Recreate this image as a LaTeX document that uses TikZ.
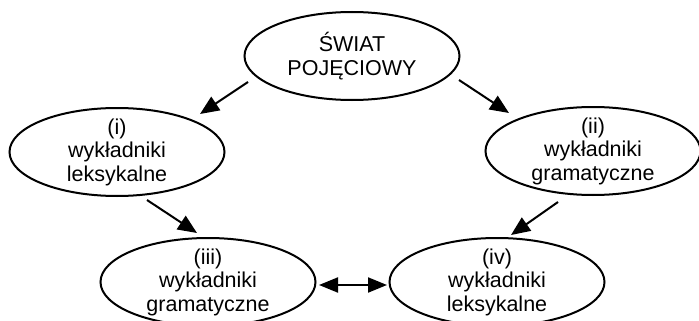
\documentclass[tikz,border=0pt]{standalone}
\usepackage{fontspec}
\setmainfont{Liberation Sans}
\usetikzlibrary{arrows.meta,shapes.geometric}
\begin{document}
\begin{tikzpicture}[x=1pt,y=-1pt,
  oval/.style={draw, ellipse, line width=2pt, minimum width=215pt, minimum height=88pt, inner sep=0pt},
  txt/.style={align=center, font=\fontsize{21.5}{23.5}\selectfont, inner sep=0pt},
  arr/.style={line width=2pt, -{Triangle[length=19pt,width=16pt]}},
  darr/.style={line width=2pt, {Triangle[length=19pt,width=15pt]}-{Triangle[length=19pt,width=15pt]}}]
\useasboundingbox (0,0) rectangle (699,321);
\node[oval] (top) at (352,56) {};
\node[txt] (toptxt) at (top.center) {ŚWIAT\\POJĘCIOWY};
\node[oval] (i) at (117,152) {};
\node[txt] (itxt) at (i.center) {(i)\\wykładniki\\leksykalne};
\node[oval] (ii) at (593,151) {};
\node[txt] (iitxt) at (ii.center) {(ii)\\wykładniki\\gramatyczne};
\node[oval] (iii) at (208,282) {};
\node[txt] (iiitxt) at (iii.center) {(iii)\\wykładniki\\gramatyczne};
\node[oval] (iv) at (497,282) {};
\node[txt] (ivtxt) at (iv.center) {(iv)\\wykładniki\\leksykalne};
\coordinate (a1s) at (248,82); \coordinate (a1e) at (200,114);
\coordinate (a2s) at (459,80); \coordinate (a2e) at (509,113);
\coordinate (a3s) at (147,200); \coordinate (a3e) at (197,233);
\coordinate (a4s) at (558,202); \coordinate (a4e) at (511,235);
\coordinate (a5s) at (319,285); \coordinate (a5e) at (387,285);
\draw[arr] (a1s) -- (a1e);
\draw[arr] (a2s) -- (a2e);
\draw[arr] (a3s) -- (a3e);
\draw[arr] (a4s) -- (a4e);
\draw[darr] (a5s) -- (a5e);
\end{tikzpicture}
\end{document}
